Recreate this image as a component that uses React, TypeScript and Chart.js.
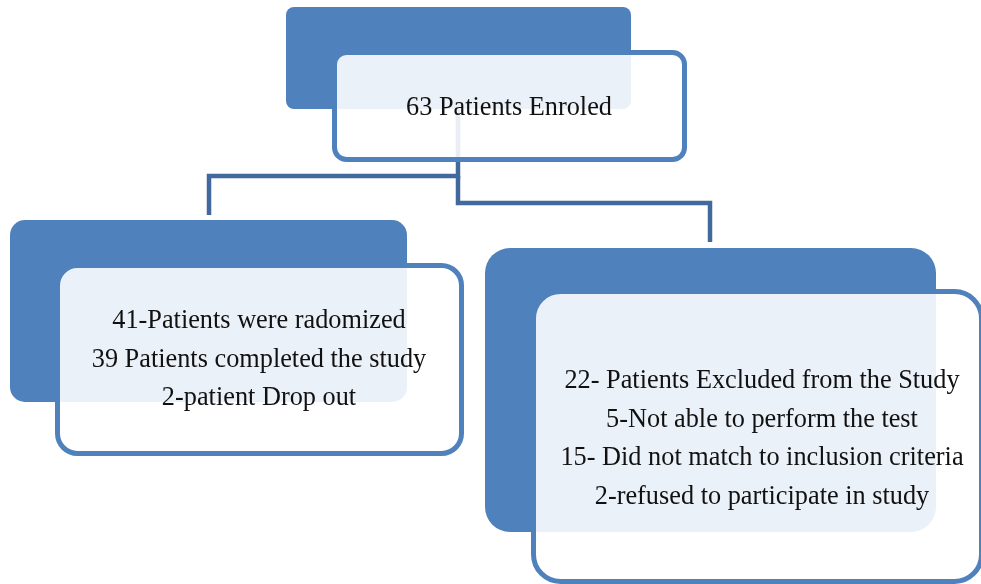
import { useEffect, useRef } from "react";
import { Chart, registerables } from "chart.js";
Chart.register(...registerables);

const W = 981;
const H = 584;

// Flowchart nodes, in chart units: [x0, y0, x1, y1]
const nodeNames = ["enrolled", "randomized", "excluded"];
const backBoxes = [
  [286, 7, 631, 109],
  [10, 220, 407, 402],
  [485, 248, 936, 532],
];
const frontBoxes = [
  [332, 50, 687, 162],
  [55, 263, 464, 456],
  [531, 289, 984, 584],
];
const topLines = ["63 Patients Enroled"];
const leftLines = [
  "41-Patients were radomized",
  "39 Patients completed the study",
  "2-patient Drop out",
];
const rightLines = [
  "22- Patients Excluded from the Study",
  "5-Not able to perform the test",
  "15- Did not match to inclusion criteria",
  "2-refused to participate in study",
];
const textLines = [topLines, leftLines, rightLines];
// text anchor: [centre x, first baseline y]
const textAnchors = [
  [509, 115],
  [259, 328],
  [762, 388],
];
const lineStep = 38.6;

// connectors
const connectorLeft = [
  { x: 458, y: 109 },
  { x: 458, y: 176 },
  { x: 209, y: 176 },
  { x: 209, y: 215 },
];
const connectorRight = [
  { x: 458, y: 176 },
  { x: 458, y: 203 },
  { x: 710, y: 203 },
  { x: 710, y: 242 },
];

// styles
const backRadius = [8, 15, 25];
const frontRadius = [12, 20, 27];
const BLUE = "#4f81bd";
const CONNECTOR = "#41699c";

export default function App() {
  const ref = useRef<HTMLCanvasElement | null>(null);
  useEffect(() => {
    document.body.style.margin = "0";
    const canvas = ref.current;
    if (!canvas) return;

    const rectPx = (chart: any, b: number[]) => {
      const xs = chart.scales.x;
      const ys = chart.scales.y;
      const x0 = xs.getPixelForValue(b[0]);
      const x1 = xs.getPixelForValue(b[2]);
      const y0 = ys.getPixelForValue(b[1]);
      const y1 = ys.getPixelForValue(b[3]);
      return [Math.min(x0, x1), Math.min(y0, y1), Math.abs(x1 - x0), Math.abs(y1 - y0)];
    };

    const backPlugin = {
      id: "backBoxes",
      beforeDatasetsDraw(chart: any) {
        const ctx = chart.ctx;
        ctx.save();
        backBoxes.forEach((b, i) => {
          const [x, y, w, h] = rectPx(chart, b);
          ctx.beginPath();
          ctx.roundRect(x, y, w, h, backRadius[i]);
          ctx.fillStyle = BLUE;
          ctx.fill();
        });
        ctx.restore();
      },
    };

    const frontPlugin = {
      id: "frontBoxes",
      afterDatasetsDraw(chart: any) {
        const ctx = chart.ctx;
        const xs = chart.scales.x;
        const ys = chart.scales.y;
        ctx.save();
        frontBoxes.forEach((b, i) => {
          const [x, y, w, h] = rectPx(chart, b);
          ctx.beginPath();
          ctx.roundRect(x + 2.5, y + 2.5, w - 5, h - 5, frontRadius[i]);
          ctx.fillStyle = "rgba(255,255,255,0.89)";
          ctx.fill();
          ctx.lineWidth = 5;
          ctx.strokeStyle = BLUE;
          ctx.stroke();
        });
        ctx.fillStyle = "#111111";
        ctx.font = '26.3px "Liberation Serif", "Times New Roman", serif';
        ctx.textAlign = "center";
        ctx.textBaseline = "alphabetic";
        textLines.forEach((lines, i) => {
          const cx = xs.getPixelForValue(textAnchors[i][0]);
          lines.forEach((t, j) => {
            const cy = ys.getPixelForValue(textAnchors[i][1] + j * lineStep);
            ctx.fillText(t, cx, cy);
          });
        });
        ctx.restore();
      },
    };

    const chart = new Chart(canvas, {
      type: "scatter",
      data: {
        datasets: [
          {
            label: nodeNames[1],
            data: connectorLeft,
            showLine: true,
            borderColor: CONNECTOR,
            borderWidth: 4.5,
            pointRadius: 0,
            borderJoinStyle: "miter",
            borderCapStyle: "butt",
            tension: 0,
          },
          {
            label: nodeNames[2],
            data: connectorRight,
            showLine: true,
            borderColor: CONNECTOR,
            borderWidth: 4.5,
            pointRadius: 0,
            borderJoinStyle: "miter",
            borderCapStyle: "butt",
            tension: 0,
          },
        ],
      },
      options: {
        animation: false,
        responsive: false,
        maintainAspectRatio: false,
        layout: { padding: 0 },
        scales: {
          x: { type: "linear", min: 0, max: W, display: false },
          y: { type: "linear", min: 0, max: H, reverse: true, display: false },
        },
        plugins: {
          legend: { display: false },
          tooltip: { enabled: false },
        },
        events: [],
      },
      plugins: [backPlugin, frontPlugin],
    } as any);
    return () => chart.destroy();
  }, []);

  return (
    <div style={{ position: "relative", width: W, height: H, background: "#ffffff" }}>
      <canvas ref={ref} width={W} height={H} style={{ display: "block", width: W, height: H }} />
    </div>
  );
}
